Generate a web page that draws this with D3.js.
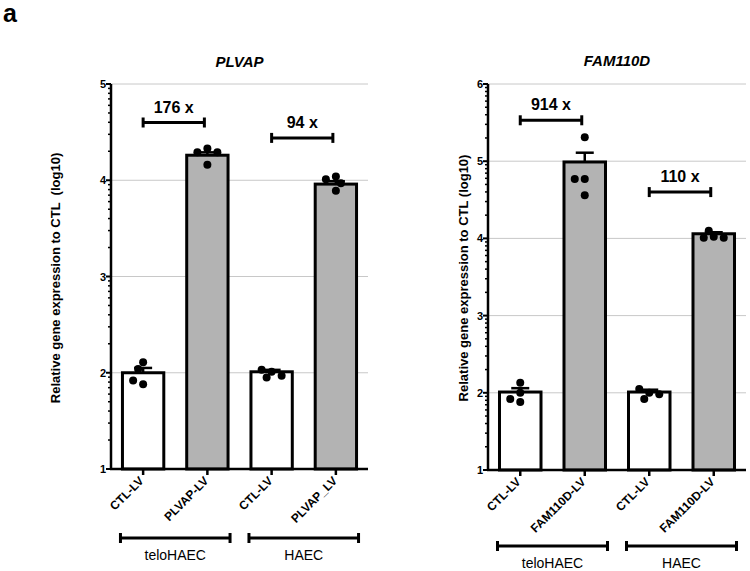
<!DOCTYPE html>
<html><head><meta charset="utf-8">
<script src="https://cdn.jsdelivr.net/npm/d3@7"></script>
<style>
body{margin:0;background:#fff;position:relative;width:750px;height:571px;overflow:hidden;}
svg{position:absolute;left:0;top:0;}
text{font-family:Arial,"Liberation Sans",sans-serif;}
.xl{position:absolute;font:bold 12px Arial,"Liberation Sans",sans-serif;line-height:12px;white-space:nowrap;transform:rotate(-45deg);transform-origin:100% 100%;color:#000;}
</style></head>
<body><svg id="c" width="750" height="571"></svg>
<script>
// ---- data ----
const plvapCategories = ["CTL-LV","PLVAP-LV","CTL-LV","PLVAP_LV"];
const plvapMeans = [2.00, 4.26, 2.01, 3.96];
const plvapSem = [0.05, 0.03, 0.02, 0.03];
const plvapPoints = [[2.11,1.88,1.92,2.04],[4.33,4.29,4.29,4.16],[2.01,1.95,1.97,2.03],[4.04,4.01,3.97,3.89]];
const plvapFold = [{label:"176 x", from:0, to:1, y:4.60},{label:"94 x", from:2, to:3, y:4.44}];
const plvapTicks = [1,2,3,4,5];

const famCategories = ["CTL-LV","FAM110D-LV","CTL-LV","FAM110D-LV"];
const famMeans = [2.01, 4.99, 2.01, 4.06];
const famSem = [0.05, 0.12, 0.03, 0.02];
const famPoints = [[2.13,2.00,1.88,1.92],[5.31,4.77,4.77,4.56],[2.00,1.92,1.98,2.05],[4.02,4.01,4.01,4.10]];
const famFold = [{label:"914 x", from:0, to:1, y:5.53},{label:"110 x", from:2, to:3, y:4.60}];
const famTicks = [1,2,3,4,5,6];

const groups = ["teloHAEC","HAEC"];
const yLabelLeft = "Relative gene expression to CTL  (log10)";
const yLabelRight = "Relative gene expression to CTL (log10)";

const svg = d3.select("#c");
const body = d3.select("body");
svg.append("text").attr("x",3).attr("y",22).attr("font-size",25).attr("font-weight","bold").text("a");

function panel(o){
  const g = svg.append("g");
  const x = d3.scaleBand().domain(d3.range(o.cats.length)).range(o.xr).paddingInner(0.31).paddingOuter(0.155);
  const y = d3.scaleLinear().domain([1,o.ticks[o.ticks.length-1]]).range(o.yr);
  const x0=o.xr[0], x1=o.xr[1];
  // grid
  g.selectAll(null).data(o.ticks.slice(1)).join("line")
    .attr("x1",x0).attr("x2",x1).attr("y1",d=>y(d)).attr("y2",d=>y(d))
    .attr("stroke","#c8c8c8").attr("stroke-width",1);
  // bars
  g.selectAll(null).data(o.means).join("rect")
    .attr("x",(d,i)=>x(i)+1.5).attr("width",x.bandwidth()-3)
    .attr("y",d=>y(d)).attr("height",d=>y(1)-y(d))
    .attr("fill",(d,i)=>i%2? "#b3b3b3":"#fff").attr("stroke","#000").attr("stroke-width",3);
  // error bars
  o.means.forEach((m,i)=>{
    const cx = x(i)+x.bandwidth()/2;
    g.append("line").attr("x1",cx).attr("x2",cx).attr("y1",y(m)).attr("y2",y(m+o.sem[i])).attr("stroke","#000").attr("stroke-width",2.5);
    g.append("line").attr("x1",cx-9).attr("x2",cx+9).attr("y1",y(m+o.sem[i])).attr("y2",y(m+o.sem[i])).attr("stroke","#000").attr("stroke-width",2.5);
  });
  // points (simple swarm)
  const r=4;
  o.points.forEach((pts,i)=>{
    const cx = x(i)+x.bandwidth()/2;
    const placed=[];
    pts.forEach(v=>{
      const py=y(v);
      const cands=[0,-5,5,-10,10,-15,15];
      let px=cx;
      for(const c of cands){
        if(placed.every(p=>Math.hypot(p[0]-(cx+c),p[1]-py)>=2*r*0.95)){px=cx+c;break;}
      }
      placed.push([px,py]);
    });
    g.selectAll(null).data(placed).join("circle").attr("cx",d=>d[0]).attr("cy",d=>d[1]).attr("r",r).attr("fill","#000");
  });
  // y axis with log minor ticks
  g.append("line").attr("x1",x0).attr("x2",x0).attr("y1",y.range()[1]).attr("y2",y(1)).attr("stroke","#000").attr("stroke-width",2.5);
  const minor=[];
  o.ticks.slice(0,-1).forEach(t=>{for(let k=2;k<=9;k++) minor.push(t+Math.log10(k));});
  g.selectAll(null).data(minor).join("line").attr("x1",x0-3).attr("x2",x0).attr("y1",d=>y(d)).attr("y2",d=>y(d)).attr("stroke","#000").attr("stroke-width",1.5);
  g.selectAll(null).data(o.ticks).join("line").attr("x1",x0-5).attr("x2",x0).attr("y1",d=>y(d)).attr("y2",d=>y(d)).attr("stroke","#000").attr("stroke-width",2);
  g.selectAll(null).data(o.ticks).join("text").attr("x",x0-5).attr("y",d=>y(d)+4)
    .attr("text-anchor","end").attr("font-size",11).attr("font-weight","bold").text(d=>d);
  // x axis
  g.append("line").attr("x1",x0-1).attr("x2",x1).attr("y1",y(1)).attr("y2",y(1)).attr("stroke","#000").attr("stroke-width",2.5);
  o.cats.forEach((c,i)=>{
    const cx=x(i)+x.bandwidth()/2;
    g.append("line").attr("x1",cx).attr("x2",cx).attr("y1",y(1)).attr("y2",y(1)+6).attr("stroke","#000").attr("stroke-width",2.5);
    const tx=cx+3, ty=y(1)+14;
    body.append("div").attr("class","xl")
      .style("right",(750-tx)+"px").style("top",(ty-12)+"px").text(c);
  });
  // fold brackets
  o.fold.forEach(f=>{
    const a=x(f.from)+x.bandwidth()/2, b=x(f.to)+x.bandwidth()/2-3, yy=y(f.y);
    g.append("line").attr("x1",a).attr("x2",b).attr("y1",yy).attr("y2",yy).attr("stroke","#000").attr("stroke-width",3);
    [a,b].forEach(e=>g.append("line").attr("x1",e).attr("x2",e).attr("y1",yy-5).attr("y2",yy+5).attr("stroke","#000").attr("stroke-width",3));
    g.append("text").attr("x",(a+b)/2).attr("y",yy-10).attr("text-anchor","middle").attr("font-size",16).attr("font-weight","bold").text(f.label);
  });
  // group brackets
  groups.forEach((gr,j)=>{
    const a=x(2*j)-0.5, b=x(2*j+1)+x.bandwidth()+0.5, yy=o.groupY;
    g.append("line").attr("x1",a).attr("x2",b).attr("y1",yy).attr("y2",yy).attr("stroke","#000").attr("stroke-width",3);
    [a,b].forEach(e=>g.append("line").attr("x1",e).attr("x2",e).attr("y1",yy-5).attr("y2",yy+5).attr("stroke","#000").attr("stroke-width",3));
    g.append("text").attr("x",(a+b)/2).attr("y",yy+22).attr("text-anchor","middle").attr("font-size",14).text(gr);
  });
  // title
  g.append("text").attr("x",(x0+x1)/2).attr("y",o.titleY).attr("text-anchor","middle")
    .attr("font-size",15).attr("font-weight","bold").attr("font-style","italic").text(o.title);
  // y label
  g.append("text").attr("transform",`translate(${o.ylx},${o.yly}) rotate(-90)`).attr("text-anchor","middle")
    .attr("font-size",13).attr("font-weight","bold").style("white-space","pre").text(o.ylab);
}

panel({cats:plvapCategories,means:plvapMeans,sem:plvapSem,points:plvapPoints,fold:plvapFold,ticks:plvapTicks,
  xr:[111,368], yr:[469,84], groupY:538, titleY:67, title:"PLVAP", ylab:yLabelLeft, ylx:60, yly:278});
panel({cats:famCategories,means:famMeans,sem:famSem,points:famPoints,fold:famFold,ticks:famTicks,
  xr:[488,746], yr:[470,84], groupY:546, titleY:66, title:"FAM110D", ylab:yLabelRight, ylx:468, yly:278});
</script></body></html>
